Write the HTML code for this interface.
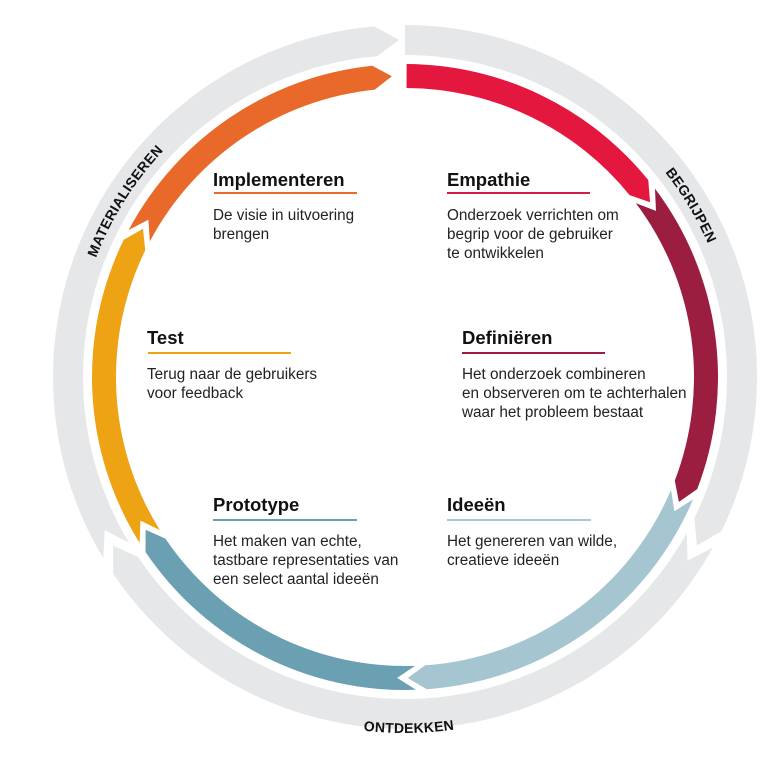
<!DOCTYPE html>
<html><head><meta charset="utf-8"><style>
body{margin:0;background:#fff;width:784px;height:757px;overflow:hidden}
svg{display:block}
.h{font:bold 18.5px "Liberation Sans",sans-serif;fill:#111}
.b{font:15.3px "Liberation Sans",sans-serif;fill:#222}
.g{font:bold 14px "Liberation Sans",sans-serif;fill:#111;letter-spacing:0.3px}
</style></head><body>
<svg id="s" width="784" height="757" viewBox="0 0 784 757">
<defs>
<path id="cw1" d="M 405 46 A 331 331 0 1 1 404.9 46"/>
<path id="ccw" d="M 49 377 A 356 356 0 0 0 761 377"/>
</defs>
<g id="rings"></g>
<text class="g"><textPath href="#cw1" startOffset="341" text-anchor="middle">BEGRIJPEN</textPath></text>
<text class="g"><textPath href="#cw1" startOffset="1745" text-anchor="middle">MATERIALISEREN</textPath></text>
<text class="g"><textPath href="#ccw" startOffset="563" text-anchor="middle">ONTDEKKEN</textPath></text>

<text class="h" x="213" y="186">Implementeren</text>
<rect x="214" y="192" width="143" height="2" fill="#e8692a"/>
<text class="b" x="213" y="220">De visie in uitvoering</text>
<text class="b" x="213" y="239">brengen</text>

<text class="h" x="447" y="186">Empathie</text>
<rect x="447" y="192" width="143" height="2" fill="#d61a46"/>
<text class="b" x="447" y="220">Onderzoek verrichten om</text>
<text class="b" x="447" y="239">begrip voor de gebruiker</text>
<text class="b" x="447" y="258">te ontwikkelen</text>

<text class="h" x="147" y="344">Test</text>
<rect x="148" y="352" width="143" height="2" fill="#eea314"/>
<text class="b" x="147" y="379">Terug naar de gebruikers</text>
<text class="b" x="147" y="398">voor feedback</text>

<text class="h" x="462" y="344">Definiëren</text>
<rect x="462" y="352" width="143" height="2" fill="#9b1d40"/>
<text class="b" x="462" y="379">Het onderzoek combineren</text>
<text class="b" x="462" y="398">en observeren om te achterhalen</text>
<text class="b" x="462" y="417">waar het probleem bestaat</text>

<text class="h" x="213" y="511">Prototype</text>
<rect x="213" y="519" width="144" height="2" fill="#6b9fb2"/>
<text class="b" x="213" y="546">Het maken van echte,</text>
<text class="b" x="213" y="565">tastbare representaties van</text>
<text class="b" x="213" y="584">een select aantal ideeën</text>

<text class="h" x="447" y="511">Ideeën</text>
<rect x="447" y="519" width="144" height="2" fill="#a7c8d3"/>
<text class="b" x="447" y="546">Het genereren van wilde,</text>
<text class="b" x="447" y="565">creatieve ideeën</text>
</svg>
<script>
var cx=405,cy=377,g=document.getElementById('rings');
function P(a,r){a=a*Math.PI/180;return (cx+r*Math.sin(a)).toFixed(2)+' '+(cy-r*Math.cos(a)).toFixed(2);}
function seg(s,e,r1,r2,d,notch,col){
 var rm=(r1+r2)/2,big=(e-s)>180?1:0;
 var p='M '+P(s,r2)+' A '+r2+' '+r2+' 0 '+big+' 1 '+P(e,r2)+' L '+P(e+d,rm)+' L '+P(e,r1)+' A '+r1+' '+r1+' 0 '+big+' 0 '+P(s,r1)+(notch?' L '+P(s+d,rm):'')+' Z';
 var el=document.createElementNS('http://www.w3.org/2000/svg','path');el.setAttribute('d',p);el.setAttribute('fill',col);g.appendChild(el);
}
seg(0,116,322,352,4,false,'#e5e7e9');
seg(119,236,322,352,4,true,'#e5e7e9');
seg(239,355,322,352,4,true,'#e5e7e9');
var c=[[0.3,51,false,'#e4173f'],[53,111,true,'#9b1d40'],[113,176,true,'#a5c6d1'],[178,236,true,'#6b9fb2'],[238,296,true,'#eea314'],[298,354,true,'#e8692a']];
c.forEach(function(x){seg(x[0],x[1],289,313,3.5,x[2],x[3]);});
</script>
</body></html>
